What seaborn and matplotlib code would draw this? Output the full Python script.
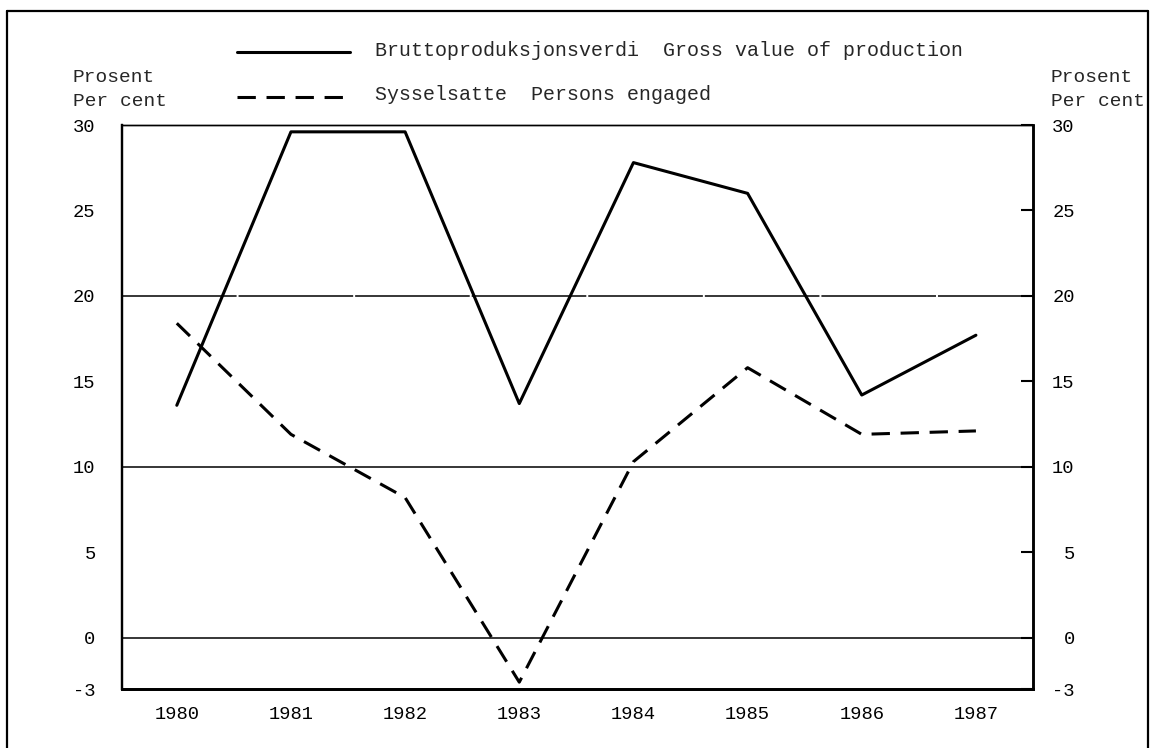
import seaborn as sns
import matplotlib.pyplot as plt
from matplotlib.lines import Line2D

years = [1980, 1981, 1982, 1983, 1984, 1985, 1986, 1987]
gross_value = [13.6, 29.6, 29.6, 13.7, 27.8, 26.0, 14.2, 17.7]
persons_engaged = [18.4, 11.9, 8.2, -2.6, 10.3, 15.8, 11.9, 12.1]
y_ticks = [-3, 0, 5, 10, 15, 20, 25, 30]
grid_levels = [0, 10, 20]

sns.set_style('white')
plt.rcParams['font.family'] = ['Liberation Mono', 'DejaVu Sans']

fig = plt.figure(figsize=(11.55, 7.48), dpi=100)
ax = fig.add_axes([122 / 1155, 1 - 689 / 748, (1033 - 122) / 1155, (689 - 125) / 748])

# horizontal reference lines
for g in grid_levels:
    ls = (0, (75, 1.3)) if g == 20 else '-'
    ax.axhline(g, color='black', lw=1.1, ls=ls, zorder=1)

sns.lineplot(x=years, y=gross_value, color='black', lw=2.2, ax=ax, zorder=3)
sns.lineplot(x=years, y=persons_engaged, color='black', lw=2.2, ax=ax, zorder=3,
             ls=(0, (6, 3.5)))

ax.set_xlim(1979.52, 1987.5)
ax.set_ylim(-3, 30)
ax.set_xticks(years)
ax.set_xticklabels([str(y) for y in years])
ax.set_yticks(y_ticks)
ax.set_yticklabels([str(v) for v in y_ticks])
ax.tick_params(axis='x', direction='in', length=9, width=2, pad=12, labelsize=13.5, colors='black')
ax.tick_params(axis='y', left=False, length=0, pad=19, labelsize=13.5, colors='black')

ax2 = ax.twinx()
ax2.set_ylim(-3, 30)
ax2.set_yticks(y_ticks)
ax2.set_yticklabels([str(v) for v in y_ticks])
ax2.tick_params(axis='y', direction='in', length=9, width=1.5, pad=30, labelsize=13.5, colors='black')
for lbl in ax2.get_yticklabels():
    lbl.set_horizontalalignment('right')

for a in (ax, ax2):
    for side, sp in a.spines.items():
        sp.set_color('black')
        sp.set_visible(True)
    a.spines['top'].set_linewidth(1.0)
    a.spines['left'].set_linewidth(1.6)
    a.spines['right'].set_linewidth(1.8)
    a.spines['bottom'].set_linewidth(2.0)
ax.set_xlabel('')
ax.set_ylabel('')

# axis titles
fig.text(73 / 1155, 1 - 77 / 748, 'Prosent', fontsize=14, va='center', ha='left')
fig.text(73 / 1155, 1 - 102 / 748, 'Per cent', fontsize=14, va='center', ha='left')
fig.text(1051 / 1155, 1 - 77 / 748, 'Prosent', fontsize=14, va='center', ha='left')
fig.text(1051 / 1155, 1 - 102 / 748, 'Per cent', fontsize=14, va='center', ha='left')

# legend drawn as on the original page
fig.add_artist(Line2D([237 / 1155, 350 / 1155], [1 - 52 / 748, 1 - 52 / 748],
                      color='black', lw=2.2))
fig.add_artist(Line2D([237 / 1155, 350 / 1155], [1 - 97 / 748, 1 - 97 / 748],
                      color='black', lw=2.2, ls=(0, (6, 3.5))))
fig.text(375 / 1155, 1 - 51 / 748, 'Bruttoproduksjonsverdi  Gross value of production',
         fontsize=14.4, va='center', ha='left')
fig.text(375 / 1155, 1 - 95 / 748, 'Sysselsatte  Persons engaged',
         fontsize=14.4, va='center', ha='left')

# page frame
fig.add_artist(Line2D([7 / 1155, 7 / 1155], [0, 1 - 11 / 748], color='black', lw=1.6))
fig.add_artist(Line2D([7 / 1155, 1148 / 1155], [1 - 11 / 748, 1 - 11 / 748], color='black', lw=1.6))
fig.add_artist(Line2D([1148 / 1155, 1148 / 1155], [0, 1 - 11 / 748], color='black', lw=1.6))

fig.savefig('out.png', dpi=100)
